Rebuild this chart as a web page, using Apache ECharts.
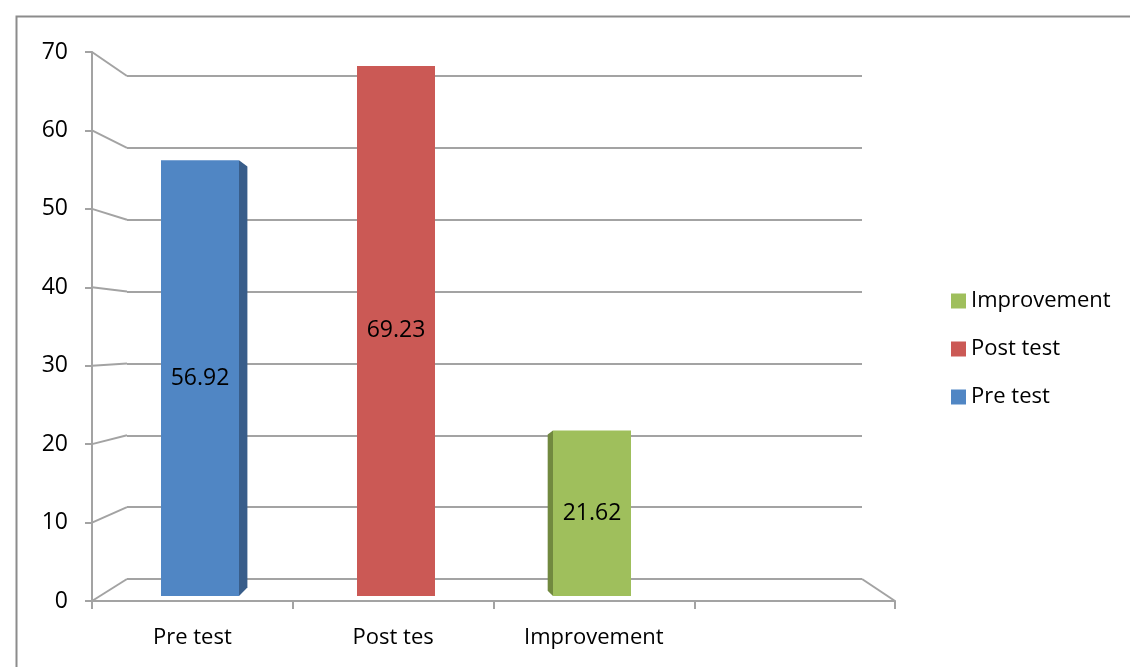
<!DOCTYPE html>
<html>
<head>
<meta charset="utf-8">
<script src="https://cdn.jsdelivr.net/npm/echarts@6/dist/echarts.min.js"></script>
<style>
  html, body { margin: 0; padding: 0; background: #fff; }
  #main { width: 1130px; height: 667px; }
</style>
</head>
<body>
<div id="main"></div>
<script>
// data
const categories = ['Pre test', 'Post tes', 'Improvement', ''];
const seriesNames = ['Pre test', 'Post test', 'Improvement'];
const seriesValues = [56.92, 69.23, 21.62];
const seriesColors = ['#5086c4', '#cb5955', '#9fbf5c'];
const sideColors = ['#385d8a', '#8c3836', '#71893f'];
const yTicks = [0, 10, 20, 30, 40, 50, 60, 70];

const FONT = '"Open Sans", "Liberation Sans", sans-serif';
const GRID_COLOR = '#a3a3a3';
const W = 1130;

// back wall / front axes / bars
const backGrid = { left: 127, right: 268, top: 76, bottom: 88 };
const frontGrid = { left: 92, right: 235, top: 52, bottom: 66 };
const barGrid = { left: 102, right: 244, top: 60, bottom: 71 };

const chart = echarts.init(document.getElementById('main'));

// 3d-ish bar: front face plus a thin side face toward the viewer
function renderBar(params, api) {
  const cat = api.value(0);
  const val = api.value(1);
  const top = api.coord([cat, val]);
  const base = api.coord([cat, 0]);
  const w = 78;
  const x0 = top[0] - w / 2;
  const x1 = top[0] + w / 2;
  const dx = (440 - top[0]) * 0.035;
  const children = [];
  if (Math.abs(dx) > 2) {
    const edge = dx > 0 ? x1 : x0;
    children.push({
      type: 'polygon',
      shape: { points: [
        [edge, top[1]], [edge + dx, top[1] + Math.abs(dx) * 0.75],
        [edge + dx, base[1] - Math.abs(dx)], [edge, base[1]]
      ] },
      style: { fill: sideColors[params.seriesIndex] }
    });
  }
  children.push({
    type: 'rect',
    shape: { x: x0, y: top[1], width: w, height: base[1] - top[1] },
    style: { fill: api.visual('color') },
    textContent: {
      style: { text: String(val), fill: '#000', font: '23px ' + FONT }
    },
    textConfig: { position: 'inside' }
  });
  return { type: 'group', children: children };
}

const series = seriesNames.map((name, i) => ({
  name: name,
  type: 'custom',
  xAxisIndex: 2,
  yAxisIndex: 2,
  itemStyle: { color: seriesColors[i] },
  renderItem: renderBar,
  encode: { x: 0, y: 1 },
  data: [[i, seriesValues[i]]],
  z: 5
}));

const option = {
  backgroundColor: '#fff',
  animation: false,
  textStyle: { fontFamily: FONT },
  legend: {
    orient: 'vertical',
    left: 946,
    top: 285,
    itemWidth: 15,
    itemHeight: 15,
    itemGap: 26,
    icon: 'rect',
    data: ['Improvement', 'Post test', 'Pre test'],
    textStyle: { fontSize: 22, color: '#000', fontFamily: FONT }
  },
  grid: [backGrid, frontGrid, barGrid],
  xAxis: [
    { gridIndex: 0, type: 'category', data: categories, show: false },
    {
      gridIndex: 1, type: 'category', data: categories,
      axisLine: { lineStyle: { color: GRID_COLOR, width: 2 } },
      axisTick: { show: true, length: 8, lineStyle: { color: GRID_COLOR, width: 2 } },
      axisLabel: { color: '#000', fontSize: 22, margin: 26, fontFamily: FONT }
    },
    { gridIndex: 2, type: 'category', data: categories, show: false }
  ],
  yAxis: [
    {
      gridIndex: 0, type: 'value', min: 0, max: 70, interval: 10,
      axisLine: { show: false }, axisTick: { show: false }, axisLabel: { show: false },
      splitLine: { lineStyle: { color: GRID_COLOR, width: 2 } }
    },
    {
      gridIndex: 1, type: 'value', min: 0, max: 70, interval: 10,
      axisLine: { show: true, lineStyle: { color: GRID_COLOR, width: 2 } },
      axisTick: { show: true, length: 7, lineStyle: { color: GRID_COLOR, width: 2 } },
      axisLabel: { color: '#000', fontSize: 23, margin: 24, fontFamily: FONT },
      splitLine: { show: false }
    },
    { gridIndex: 2, type: 'value', min: 0, max: 70, show: false, splitLine: { show: false } }
  ],
  series: series
};

chart.setOption(option);

// connectors from the front axis to the back wall, y placed through the axes' scales
const graphics = [{
  type: 'rect',
  left: 14, top: 14,
  shape: { width: 1140, height: 700 },
  style: { fill: 'none', stroke: '#8c8c8c', lineWidth: 2 },
  silent: true
}];
const line = (x1, y1, x2, y2) => ({
  type: 'line',
  shape: { x1: x1, y1: y1, x2: x2, y2: y2 },
  style: { stroke: GRID_COLOR, lineWidth: 2 },
  silent: true
});
yTicks.forEach(v => {
  const yFront = chart.convertToPixel({ yAxisIndex: 1 }, v);
  const yBack = chart.convertToPixel({ yAxisIndex: 0 }, v);
  graphics.push(line(frontGrid.left, yFront, backGrid.left, yBack));
});
const yFront0 = chart.convertToPixel({ yAxisIndex: 1 }, 0);
const yBack0 = chart.convertToPixel({ yAxisIndex: 0 }, 0);
graphics.push(line(W - backGrid.right, yBack0, W - frontGrid.right, yFront0));
chart.setOption({ graphic: graphics });

window.addEventListener('resize', () => chart.resize());
</script>
</body>
</html>
